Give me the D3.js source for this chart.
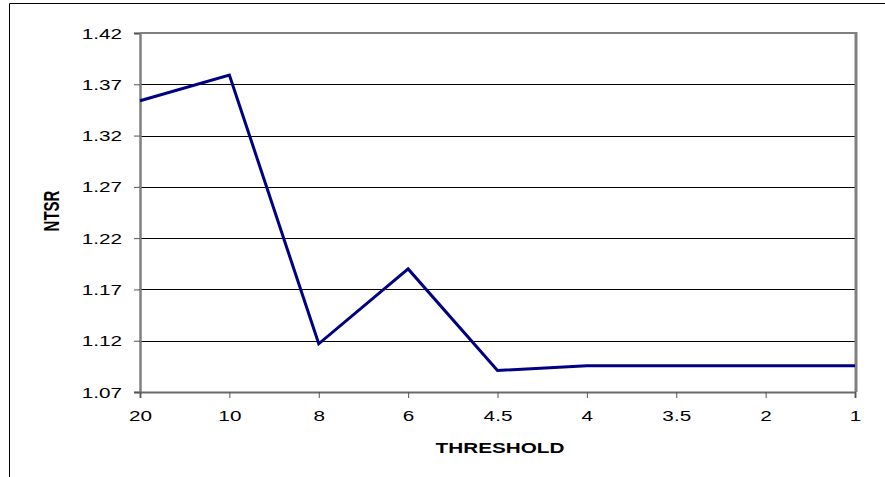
<!DOCTYPE html>
<html><head><meta charset="utf-8">
<script src="https://cdn.jsdelivr.net/npm/d3@7"></script>
<style>html,body{margin:0;padding:0;background:#fff;}svg{display:block;}</style>
</head><body>
<svg id="c" width="885" height="477"></svg>
<script>
const categories = ["20","10","8","6","4.5","4","3.5","2","1"];
const ntsr = [1.354, 1.379, 1.117, 1.190, 1.091, 1.0955, 1.0955, 1.0955, 1.0955];
const yTicks = [1.07, 1.12, 1.17, 1.22, 1.27, 1.32, 1.37, 1.42];
const xTitle = "THRESHOLD";
const yTitle = "NTSR";

const FONT = "Liberation Sans, Arial, sans-serif";
const SX = 1.48; // horizontal stretch of the text in the original image
const svg = d3.select("#c");
const L = 140, R = 855, T = 33, B = 392;
const x = d3.scalePoint().domain(categories).range([L, R]).padding(0);
const y = d3.scaleLinear().domain([1.07, 1.42]).range([B, T]);

// outer border
svg.append("path").attr("d", "M9.5,477 V3.5 H885").attr("fill","none").attr("stroke","#000").attr("stroke-width",1);

// gridlines
svg.append("g").selectAll("line").data(yTicks.slice(1,-1)).join("line")
  .attr("x1", L).attr("x2", R).attr("y1", d => Math.round(y(d))+0.5).attr("y2", d => Math.round(y(d))+0.5)
  .attr("stroke", "#000").attr("stroke-width", 1);

// plot border (gray)
svg.append("line").attr("x1", L).attr("x2", R+2).attr("y1", T).attr("y2", T).attr("stroke","#808080").attr("stroke-width",2);
svg.append("line").attr("x1", R+1).attr("x2", R+1).attr("y1", T-1).attr("y2", B).attr("stroke","#808080").attr("stroke-width",3);

// y axis
const yAxis = d3.axisLeft(y).tickValues(yTicks).tickFormat(d3.format(".2f")).tickSizeOuter(0).tickSize(6);
const gy = svg.append("g").attr("transform", `translate(${L},0)`).call(yAxis);
gy.select(".domain").attr("stroke","#808080").attr("stroke-width",2.5);
gy.selectAll(".tick line").attr("stroke","#555");
gy.selectAll(".tick text")
  .attr("x", 0).attr("dy", null).attr("y", 5)
  .attr("transform", `translate(-18,0) scale(${SX},1)`)
  .attr("font-family", FONT).attr("font-size", 14).attr("fill","#000").attr("text-anchor","end");

// x axis
const xAxis = d3.axisBottom(x).tickSizeOuter(0).tickSize(6);
const gx = svg.append("g").attr("transform", `translate(0,${B})`).call(xAxis);
gx.select(".domain").attr("stroke","#6a6a6a").attr("stroke-width",2);
gx.selectAll(".tick line").attr("stroke","#555");
gx.selectAll(".tick text")
  .attr("y", 0).attr("dy", null)
  .attr("transform", `translate(0,29) scale(${SX},1)`)
  .attr("font-family", FONT).attr("font-size", 14).attr("fill","#000").attr("text-anchor","middle");

// line
const line = d3.line().x((d,i) => x(categories[i])).y(d => y(d));
svg.append("path").datum(ntsr).attr("d", line).attr("fill","none")
  .attr("stroke","#000080").attr("stroke-width",3).attr("stroke-linejoin","miter");

// titles
svg.append("text").attr("transform", `translate(500,453) scale(${SX},1)`).attr("text-anchor","middle")
  .attr("font-family", FONT).attr("font-size",14).attr("font-weight","bold").text(xTitle);
svg.append("text").attr("transform", `translate(59,211) scale(${SX},1) rotate(-90)`).attr("text-anchor","middle")
  .attr("font-family", FONT).attr("font-size",15).attr("font-weight","bold").text(yTitle);
</script>
</body></html>
